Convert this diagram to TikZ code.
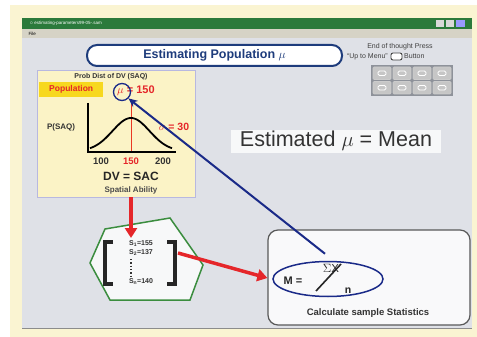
\documentclass[tikz,border=0pt]{standalone}
\usepackage{fontspec}
\setmainfont{Liberation Sans}
\usepackage{amsmath}
\usepackage{xcolor}
\usetikzlibrary{positioning}
\usetikzlibrary{arrows.meta}
\usetikzlibrary{shapes.geometric}

\definecolor{creambg}{HTML}{FAF4D2}
\definecolor{winbg}{HTML}{DFE1E7}
\definecolor{titlegreen}{HTML}{2B7A3B}
\definecolor{menugray}{HTML}{D6D3C6}
\definecolor{pillblue}{HTML}{1E3C7C}
\definecolor{navyline}{HTML}{1A2A88}
\definecolor{boxyellow}{HTML}{FBF3C6}
\definecolor{popyellow}{HTML}{F7D81E}
\definecolor{redish}{HTML}{E5262A}
\definecolor{polygreen}{HTML}{3B8D3F}
\definecolor{panelgray}{HTML}{8E929A}

\newcommand{\fsz}[1]{\fontsize{#1}{#1}\selectfont}

\begin{document}
\begin{tikzpicture}[x=1pt,y=-1pt,
  titlepill/.style={draw=pillblue, line width=2pt, fill=white, rounded corners=10pt, text=pillblue, font=\bfseries\fsz{12.5}},
  distbox/.style={draw=gray!60!blue!40, line width=0.8pt, fill=boxyellow},
  statbox/.style={draw=black!65, line width=1.2pt, fill=white!80!winbg, rounded corners=10pt},
  redarrow/.style={redish, line width=3.5pt, -{Triangle[length=10pt,width=12pt]}},
  bluearrow/.style={navyline, line width=2pt, -{Stealth[length=9pt,width=8pt]}},
  bracket/.style={black!85, line width=4pt},
  sampletxt/.style={font=\bfseries\fsz{7}, text=black!80, inner sep=0.5pt},
  btn/.style={draw=white!80!black, fill=gray!45, line width=0.6pt, rounded corners=1pt}]

\useasboundingbox (0,0) rectangle (477,337);
\fill[white] (0,0) rectangle (477,337);
\fill[creambg] (10,5) rectangle (477,337);

\begin{scope}{
% window frame
\fill[winbg] (22,18) rectangle (472,328);
\draw[black!45, line width=1pt] (22,328) -- (472,328);
\fill[titlegreen] (22,18) rectangle (472,29);
\node[anchor=west, text=white, font=\fsz{4.5}] (wintitle) at (26,23.5) {$\circ$ estimating-parameters99-05-.sam};
\fill[white!70!gray] (436,20) rectangle ++(8,7);
\fill[white!70!gray] (446,20) rectangle ++(8,7);
\fill[blue!40!white] (456,20) rectangle ++(9,7);
\fill[menugray] (22,29) rectangle (472,38);
\node[anchor=west, font=\fsz{4.5}] (filemenu) at (25,33.5) {File};
} \end{scope}

\node[titlepill, minimum width=255, minimum height=21] (title) at (214.5,55.5) {Estimating Population $\mu$};

\begin{scope}{
% up to menu note and buttons
\node[font=\fsz{7}, text=black!75, inner sep=0] (endnote) at (400,47) {End of thought Press};
\node[font=\fsz{7}, text=black!75, inner sep=0, anchor=east] (upmenu) at (388,56.5) {``Up to Menu''};
\draw[black!75, fill=white, rounded corners=2pt, line width=0.9pt] (391,53) rectangle (402,60);
\node[font=\fsz{7}, text=black!75, inner sep=0, anchor=west] (btnword) at (404,56.5) {Button};
\fill[panelgray] (371,65) rectangle (453,96);
\foreach \i in {0,...,3}
  \foreach \j in {0,1}{
    \draw[btn] ({373+\i*20},{67+\j*14.5}) rectangle ++(18,12.5);
    \draw[white, line width=0.8pt, rounded corners=1.5pt] ({378+\i*20},{71+\j*14.5}) rectangle ++(8,4.5);
  }
} \end{scope}

\begin{scope}{
% population distribution
\node[distbox, minimum width=158, minimum height=127] (dist) at (116,133.5) {};
\node[font=\bfseries\fsz{7}, text=black!80] (probdist) at (111,76.5) {Prob Dist of DV (SAQ)};
\node[fill=popyellow, text=redish, font=\bfseries\fsz{8.5}, minimum width=64, minimum height=14, anchor=west, inner xsep=2pt] (poplabel) at (39,89.5) {Population};
\node[text=redish, font=\bfseries\fsz{11}, anchor=west, inner sep=0] (mulabel) at (117,91) {$\mu$ = 150};
\node[circle, draw=navyline, line width=1.3pt, minimum size=17] (mucirc) at (122,92) {};

\draw[redish!80!orange, line width=0.8pt] (131,99) -- (131,152);
\draw[black, line width=1.8pt] (88,103) -- (88,152) -- (176,152);
\draw[black, line width=1.8pt, domain=90:172, samples=60] plot (\x, {151-33*exp(-((\x-131)/18.5)^2/2)});

\node[font=\bfseries\fsz{8}, text=black!80] (psaq) at (61,127) {P(SAQ)};
\node[text=redish, font=\bfseries\fsz{10.5}] (sigma) at (174,127) {$\sigma$ = 30};
\node[font=\bfseries\fsz{9.5}, text=black!80] (t100) at (101,161) {100};
\node[font=\bfseries\fsz{9.5}, text=redish] (t150) at (131,161) {150};
\node[font=\bfseries\fsz{9.5}, text=black!80] (t200) at (163,161) {200};
\node[font=\bfseries\fsz{12}, text=black!85] (dvsac) at (131,176) {DV = SAC};
\node[font=\bfseries\fsz{8}, text=black!70] (spatial) at (131,190.5) {Spatial Ability};
} \end{scope}

\node[font=\fsz{21.5}, text=black!80, fill=white!75!winbg, minimum width=210, minimum height=23, inner sep=1pt] (estmean) at (336,141) {Estimated $\mu$ = Mean};

\begin{scope}{
% the sample
\draw[polygreen, line width=1.5pt, fill=white!75!winbg] (105,229) -- (170,218) -- (203,265) -- (190,300) -- (110,300) -- (90,263) -- cycle;
\coordinate (polytop) at (131,238);
\draw[bracket] (113,242) -- (105,242) -- (105,284) -- (113,284);
\draw[bracket] (167,242) -- (175,242) -- (175,284) -- (167,284);
\coordinate (bracketr) at (178,253);
\node[sampletxt] (s1) at (141,244) {S\textsubscript{1}=155};
\node[sampletxt] (s2) at (141,253) {S\textsubscript{2}=137};
\node[sampletxt] (sn) at (141,282) {S\textsubscript{n}=140};
\draw[black!80, line width=1.3pt, dotted] (131,259) -- (131,276);
} \end{scope}

\begin{scope}{
% sample statistic
\node[statbox, minimum width=202, minimum height=95] (stat) at (369,277.5) {};
\node[ellipse, draw=navyline, line width=1.5pt, minimum width=110, minimum height=35] (meanell) at (328,279) {};
\node[font=\bfseries\fsz{11}, text=black!85] (mlabel) at (293,281) {M =};
\node[font=\fsz{11.5}, text=black!85] (sumx) at (331,268) {$\Sigma$X};
\draw[black!85, line width=1.6pt] (316,291) -- (341,264);
\node[font=\bfseries\fsz{10.5}, text=black!85] (nlabel) at (348,291) {n};
\node[font=\bfseries\fsz{9.5}, text=black!80] (calc) at (368,313) {Calculate sample Statistics};
} \end{scope}

\draw[redarrow] (dist.south -| polytop) -- (polytop);
\draw[redarrow] (bracketr) -- (stat.west |- 0,278);
\draw[bluearrow] (meanell.north) ++(-3,-7) -- (mucirc.south east);

\end{tikzpicture}
\end{document}
